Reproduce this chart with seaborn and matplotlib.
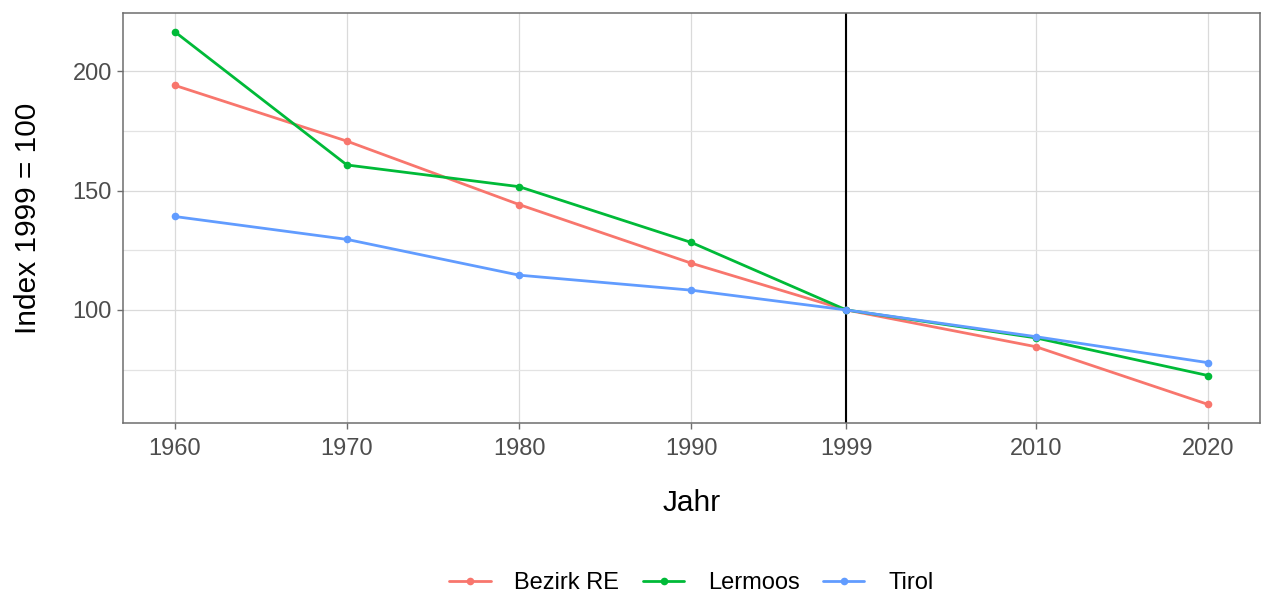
import pandas as pd
import numpy as np
import matplotlib
matplotlib.use("Agg")
import matplotlib.pyplot as plt
import seaborn as sns
from matplotlib.ticker import MultipleLocator

# data (index 1999 = 100)
years = [1960, 1970, 1980, 1990, 1999, 2010, 2020]
bezirk_re = [194.2, 170.8, 144.2, 119.6, 100.0, 84.6, 60.4]
lermoos = [216.7, 160.8, 151.7, 128.3, 100.0, 88.3, 72.5]
tirol = [139.2, 129.6, 114.6, 108.3, 100.0, 88.8, 77.9]
series_names = ["Bezirk RE", "Lermoos", "Tirol"]
palette = ["#F8766D", "#00BA38", "#619CFF"]

rows = []
for name, vals in zip(series_names, [bezirk_re, lermoos, tirol]):
    for yr, v in zip(years, vals):
        rows.append({"Jahr": yr, "index": v, "region": name})
df = pd.DataFrame(rows)

sns.set_theme(style="whitegrid")
plt.rcParams["font.family"] = ["Liberation Sans", "DejaVu Sans"]

fig = plt.figure(figsize=(12.61, 5.98), dpi=100)
ax = fig.add_axes([0.0975, 0.2926, 0.9015, 0.6856])

# Bezugsjahr 1999
ax.axvline(1999, color="black", lw=1.5, zorder=1)

sns.lineplot(data=df, x="Jahr", y="index", hue="region", hue_order=series_names,
             palette=palette, marker="o", markersize=5.5, markeredgewidth=0,
             linewidth=2.0, ax=ax, zorder=3)

ax.set_xlim(1957, 2023)
ax.set_ylim(52.6, 224.5)
ax.set_xticks(years)
ax.set_xticklabels([str(y) for y in years])
ax.yaxis.set_minor_locator(MultipleLocator(25))
ax.set_yticks([100, 150, 200])

ax.grid(which="major", color="#dadada", lw=0.9)
ax.grid(which="minor", axis="y", color="#e3e3e3", lw=0.9)
ax.set_axisbelow(True)
for s in ax.spines.values():
    s.set_color("#6e6e6e")
    s.set_linewidth(1.1)

ax.tick_params(axis="both", which="major", length=4, width=1, color="#6e6e6e",
               labelsize=17, labelcolor="#4d4d4d", bottom=True, left=True, pad=4)
ax.tick_params(axis="x", which="major", pad=7)
ax.tick_params(axis="y", which="minor", length=0)

ax.set_xlabel("Jahr", fontsize=21.5, color="black", labelpad=21)
ax.set_ylabel("Index 1999 = 100", fontsize=21.5, color="black", labelpad=22)

handles, labels = ax.get_legend_handles_labels()
ax.legend(handles, labels, loc="center", bbox_to_anchor=(0.5, -0.39), ncol=3,
          frameon=False, fontsize=17, handlelength=1.75, columnspacing=1.0,
          handletextpad=1.0, labelcolor="black")

fig.savefig("out.png", dpi=100)
